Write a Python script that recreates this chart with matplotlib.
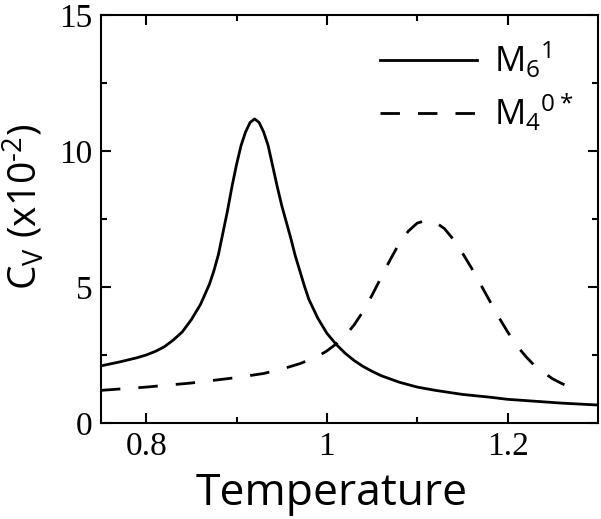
import matplotlib
matplotlib.use("Agg")
import matplotlib.pyplot as plt
from matplotlib.ticker import MultipleLocator, FixedLocator

# solid curve M6^1
t_m61 = [0.75, 0.76, 0.77, 0.78, 0.79, 0.80, 0.81, 0.82, 0.83, 0.84, 0.85, 0.86,
         0.87, 0.875, 0.88, 0.885, 0.89, 0.895, 0.90, 0.905, 0.91, 0.915, 0.92,
         0.925, 0.93, 0.935, 0.94, 0.945, 0.95, 0.955, 0.96, 0.965, 0.97, 0.975,
         0.98, 0.99, 1.00, 1.01, 1.02, 1.03, 1.04, 1.05, 1.06, 1.08, 1.10, 1.12,
         1.15, 1.18, 1.20, 1.23, 1.26, 1.30]
cv_m61 = [2.1, 2.17, 2.24, 2.32, 2.4, 2.5, 2.63, 2.8, 3.05, 3.35, 3.8, 4.35,
          5.1, 5.6, 6.2, 7.0, 7.8, 8.7, 9.5, 10.2, 10.7, 11.05, 11.18,
          11.05, 10.7, 10.2, 9.45, 8.7, 8.0, 7.4, 6.8, 6.15, 5.6, 5.05,
          4.55, 3.85, 3.3, 2.9, 2.57, 2.3, 2.08, 1.9, 1.74, 1.5, 1.32, 1.2,
          1.05, 0.95, 0.87, 0.8, 0.73, 0.66]

# dashed curve M4^0*
t_m40 = [0.75, 0.80, 0.85, 0.90, 0.93, 0.95, 0.97, 0.99, 1.00, 1.01, 1.02, 1.03,
         1.04, 1.05, 1.06, 1.07, 1.08, 1.09, 1.10, 1.11, 1.12, 1.13, 1.14, 1.15,
         1.16, 1.17, 1.18, 1.19, 1.20, 1.21, 1.22, 1.23, 1.24, 1.25, 1.26, 1.27,
         1.28]
cv_m40 = [1.2, 1.32, 1.47, 1.67, 1.82, 1.98, 2.18, 2.45, 2.65, 2.9, 3.2, 3.6,
          4.1, 4.7, 5.35, 6.0, 6.6, 7.05, 7.35, 7.45, 7.38, 7.15, 6.75, 6.25,
          5.7, 5.1, 4.5, 3.9, 3.35, 2.85, 2.45, 2.1, 1.85, 1.62, 1.45, 1.3,
          1.15]

plt.rcParams['mathtext.fontset'] = 'custom'
plt.rcParams['mathtext.rm'] = 'Open Sans'
plt.rcParams['mathtext.it'] = 'Open Sans'
plt.rcParams['axes.unicode_minus'] = False

fig = plt.figure(figsize=(6.01, 5.19), dpi=100)
ax = fig.add_axes([0.168, 0.185, 0.827, 0.786])

ax.plot(t_m61, cv_m61, color='black', linewidth=2, label=r'M$_6$$^1$')
ax.plot(t_m40, cv_m40, color='black', linewidth=2, dashes=(7, 6.5),
        label=r'M$_4$$^{0*}$')

ax.set_xlim(0.75, 1.3)
ax.set_ylim(0, 15)
ax.xaxis.set_major_locator(FixedLocator([0.8, 1.0, 1.2]))
ax.xaxis.set_minor_locator(FixedLocator([0.9, 1.1]))
ax.yaxis.set_major_locator(MultipleLocator(5))
ax.yaxis.set_minor_locator(MultipleLocator(2.5))
ax.set_xticklabels(['0.8', '1', '1.2'])

ax.tick_params(which='both', direction='in', top=True, right=True, width=1.5)
ax.tick_params(which='major', length=7, labelsize=24, pad=6)
ax.tick_params(which='minor', length=4)
for lab in ax.get_xticklabels() + ax.get_yticklabels():
    lab.set_fontfamily('Liberation Serif')
for sp in ax.spines.values():
    sp.set_linewidth(1.5)

ax.set_xlabel('Temperature', fontfamily='Open Sans', fontsize=32)
ax.xaxis.set_label_coords(0.465, -0.12)
ax.set_ylabel(r'C$_V$ (x10$^{\text{-}2}$)', fontfamily='Open Sans', fontsize=28)
ax.yaxis.set_label_coords(-0.11, 0.53)

leg = ax.legend(loc='upper right', frameon=False, handlelength=2.8,
                handletextpad=0.5, labelspacing=0.35, borderaxespad=0.3,
                prop={'family': 'Open Sans', 'size': 25})

fig.savefig('out.png', dpi=100)
